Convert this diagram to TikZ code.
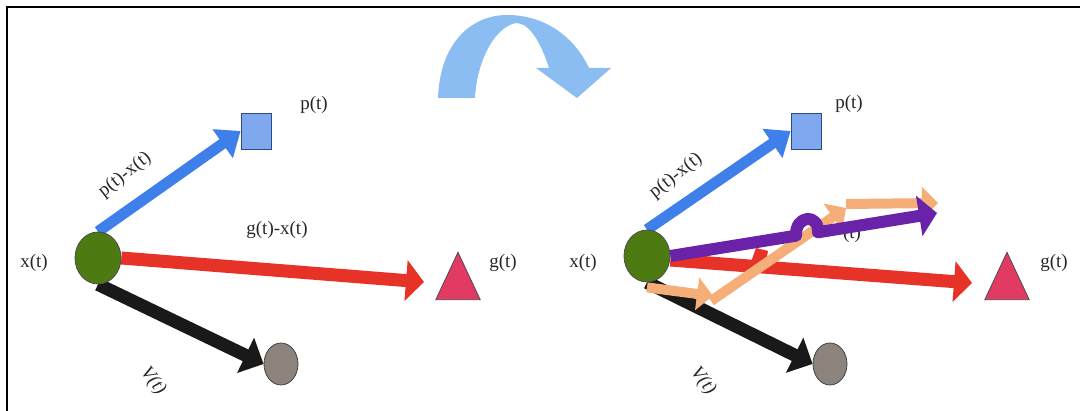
\documentclass[tikz,border=0pt]{standalone}
\usepackage{fontspec}
\setmainfont{Liberation Serif}
\usetikzlibrary{arrows.meta,shapes.geometric,backgrounds}
\definecolor{arcblue}{HTML}{8CBDF2}
\definecolor{vblue}{HTML}{3F7FEA}
\definecolor{sqfill}{HTML}{80A8EE}
\definecolor{sqline}{HTML}{2B4A8A}
\definecolor{dgreen}{HTML}{4E7A12}
\definecolor{vred}{HTML}{E63227}
\definecolor{trifill}{HTML}{E23A62}
\definecolor{vgray}{HTML}{8C837C}
\definecolor{vpurple}{HTML}{6A22A8}
\definecolor{vorange}{HTML}{F6AE78}
\begin{document}
\begin{tikzpicture}[x=1pt,y=-1pt,
  lbl/.style={font=\fontsize{19}{22}\selectfont, text=black!85, inner sep=0},
  agent/.style={ellipse, draw=black!70, fill=dgreen, line width=0.8pt, minimum width=46pt, minimum height=52pt, inner sep=0},
  obst/.style={ellipse, draw=black!75, fill=vgray, line width=0.8pt, minimum width=34pt, minimum height=42pt, inner sep=0},
  pbest/.style={rectangle, draw=sqline, fill=sqfill, line width=0.8pt, minimum width=30pt, minimum height=36pt, inner sep=0},
  gslot/.style={inner sep=0, minimum width=44pt, minimum height=47pt},
  tri/.style={draw=black!70, fill=trifill, line width=0.8pt, line join=miter},
  bluevec/.style={draw=vblue, line width=11pt, -{Triangle[length=22pt,width=34pt]}},
  redvec/.style={draw=vred, line width=13pt, -{Triangle[length=18pt,width=40pt]}},
  blackvec/.style={draw=black!90, line width=13pt, -{Triangle[length=20pt,width=38pt]}},
  purplevec/.style={draw=vpurple, line width=12pt, line join=round, -{Triangle[length=18pt,width=40pt]}},
  orangevec/.style={draw=vorange, line width=10pt, -{Triangle[length=16pt,width=32pt]}}
]
\useasboundingbox (0,0) rectangle (1080,411);
\draw[line width=1.5pt] (7,411) -- (7,7) -- (1080,7);

% curved transition arrow
\fill[arcblue] (438,98) .. controls (440,42) and (472,15) .. (507,15)
  .. controls (548,15) and (576,40) .. (589,68)
  -- (611,68) -- (577,98) -- (536,68) -- (549,68)
  .. controls (542,46) and (531,24) .. (517,23)
  .. controls (497,25) and (477,58) .. (475,98) -- cycle;

% ---------- left panel ----------
\node[agent] (x1) at (98,258) {};
\node[pbest] (p1) at (256,131) {};
\node[gslot] (g1) at (458,276) {};
\draw[tri] (g1.south west) -- (g1.south east) -- (g1.north) -- cycle;
\node[obst] (v1) at (281,364) {};
\coordinate (g1tip) at (424,282);
\begin{pgfonlayer}{background}
\draw[redvec] (x1.east) -- (g1tip);
\draw[blackvec] (x1.south) -- (v1.west);
\draw[bluevec] (x1.north) -- (p1.west);
\end{pgfonlayer}
\node[lbl] (lx1) at (34,263) {x(t)};
\node[lbl] (lp1) at (314,105) {p(t)};
\node[lbl] (lg1) at (503,263) {g(t)};
\node[lbl] (lgx1) at (277,230) {g(t)-x(t)};
\node[lbl, rotate=38] (lpx1) at (125,175) {p(t)-x(t)};
\node[lbl, rotate=-52, font=\fontsize{19}{22}\selectfont\itshape] (lv1) at (153,381) {V(t)};

% ---------- right panel ----------
\node[agent] (x2) at (647,256) {};
\node[pbest] (p2) at (806,131) {};
\node[gslot] (g2) at (1007,276) {};
\draw[tri] (g2.south west) -- (g2.south east) -- (g2.north) -- cycle;
\node[obst] (v2) at (830,364) {};
\coordinate (g2tip) at (972,283);
\begin{pgfonlayer}{background}
\draw[redvec] ([yshift=-4pt]x2.east) -- (g2tip);
\draw[blackvec] (x2.south) -- (v2.west);
\draw[bluevec] (x2.north) -- (p2.west);
\end{pgfonlayer}
\node[lbl] (lx2) at (583,263) {x(t)};
\node[lbl] (lp2) at (849,104) {p(t)};
\node[lbl] (lg2) at (1054,263) {g(t)};
\node[lbl, rotate=38] (lpx2) at (676,176) {p(t)-x(t)};
\node[lbl, rotate=-52, font=\fontsize{19}{22}\selectfont\itshape] (lv2) at (703,381) {V(t)};
\node[lbl] (lhid) at (852,234) {(t)};

% red fragment
\fill[vred] (751,262) -- (756,248) -- (768,251) -- (766,262) -- cycle;

% orange stepwise path
\coordinate (o1) at (713,296);
\coordinate (o2s) at (711,301);
\coordinate (o2) at (846,208);
\coordinate (o3s) at (846,204);
\coordinate (o3) at (938,203);
\draw[orangevec] ([yshift=-5pt]x2.south) -- (o1);
\draw[orangevec] (o2s) -- (o2);
\draw[orangevec] (o3s) -- (o3);

% purple resulting velocity with hop
\coordinate (ptip) at (937,213);
\draw[purplevec] (x2.east) -- (796,235.7) .. controls (795,215) and (819,213) .. (818,232.3) -- (ptip);
\end{tikzpicture}
\end{document}
